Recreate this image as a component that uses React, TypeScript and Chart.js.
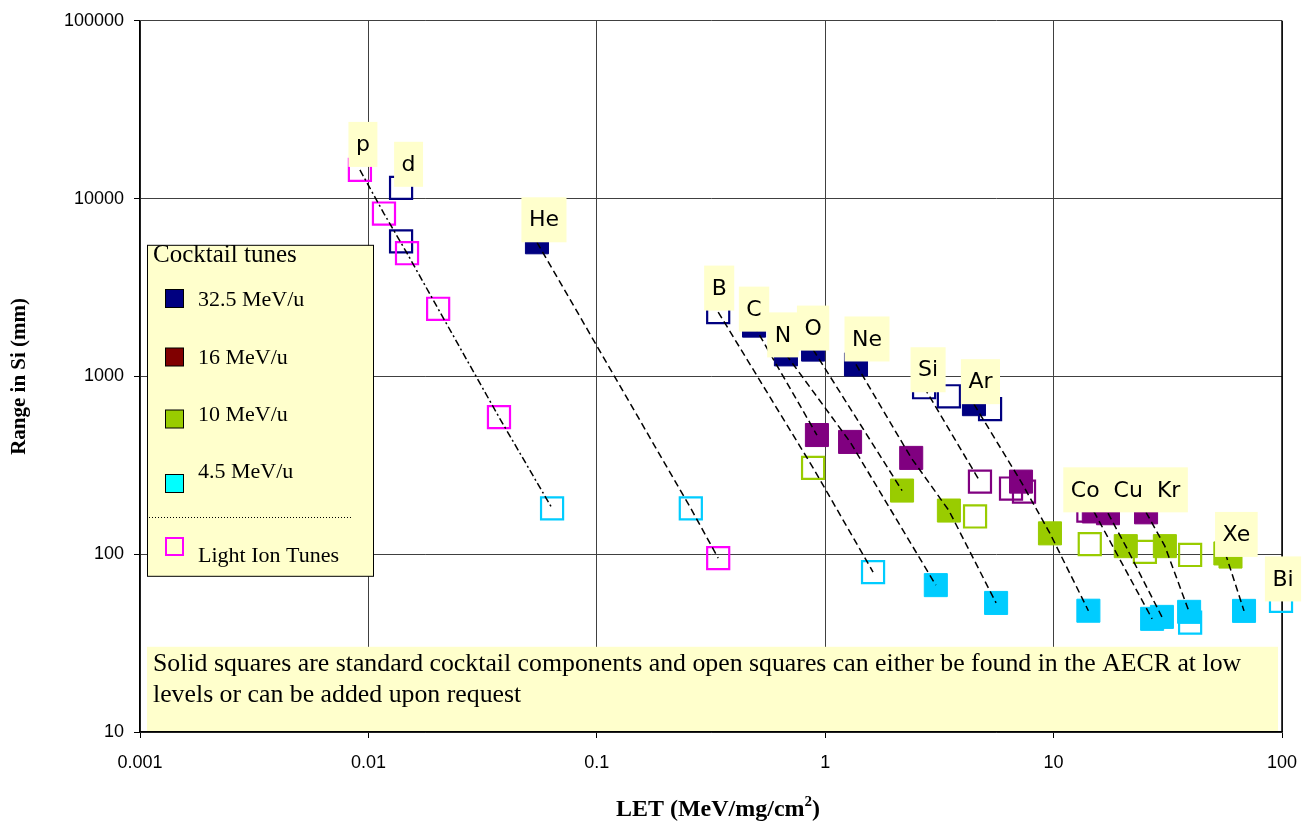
import React, { useEffect, useRef } from 'react';
import { Chart, registerables } from 'chart.js';

Chart.register(...registerables);

// ---------- axis ticks ----------
const xTickValues = [0.001, 0.01, 0.1, 1, 10, 100];
const yTickValues = [10, 100, 1000, 10000, 100000];

// ---------- marker series: [LET (MeV/mg/cm2), Range in Si] ----------
const solid325 = [[0.0547, 5680], [0.488, 1930], [0.673, 1330], [0.885, 1415], [1.364, 1167], [4.48, 698]];
const open325 = [[0.0139, 11500], [0.0139, 5750], [0.34, 2300], [2.71, 869], [3.48, 773], [5.27, 654]];
const solid16 = [[0.92, 468], [1.285, 428], [2.38, 348], [7.2, 256], [15.0, 174], [17.3, 170], [25.4, 172]];
const open16 = [[4.76, 256], [6.51, 234], [7.42, 225], [14.2, 176]];
const solid10 = [[2.17, 228], [3.48, 176], [9.64, 131], [20.7, 111], [30.7, 111], [56.5, 101], [59.5, 97]];
const open10 = [[0.885, 306], [4.53, 163], [14.4, 114], [25.1, 103], [39.6, 99]];
const solid45 = [[3.05, 67], [5.6, 53.2], [14.2, 48.1], [27.0, 43.3], [29.8, 44.4], [39.2, 47.4], [68.2, 48.0]];
const open45 = [[0.0637, 181], [0.258, 181], [1.62, 79.3], [39.6, 41.2], [99, 54.6]];
const lightIon = [[0.00918, 14500], [0.0117, 8240], [0.01476, 4930], [0.0202, 2400], [0.0373, 590], [0.34, 95]];

// ---------- ion tracks (dashed connectors) ----------
const trackP = [[0.00918, 14500], [0.0117, 8240], [0.01476, 4930], [0.0202, 2400], [0.0373, 590], [0.0637, 181]];
const trackHe = [[0.0547, 5680], [0.258, 181], [0.34, 95]];
const trackB = [[0.34, 2300], [0.885, 306], [1.62, 79.3]];
const trackC = [[0.488, 1930], [0.92, 468]];
const trackN = [[0.673, 1330], [1.285, 428], [3.05, 67]];
const trackO = [[0.885, 1415], [2.17, 228]];
const trackNe = [[1.364, 1167], [2.38, 348], [3.48, 176], [5.6, 53.2]];
const trackSi = [[2.71, 869], [4.76, 256]];
const trackAr = [[4.48, 698], [7.2, 256], [9.64, 131], [14.2, 48.1]];
const trackCo = [[15.0, 174], [27.0, 43.3]];
const trackCu = [[17.3, 170], [20.7, 111], [29.8, 44.4]];
const trackKr = [[25.4, 172], [30.7, 111], [39.2, 47.4]];
const trackXe = [[56.5, 101], [68.2, 48.0]];

// ---------- texts ----------
const ionLabels = ['p', 'd', 'He', 'B', 'C', 'N', 'O', 'Ne', 'Si', 'Ar', 'Co  Cu  Kr', 'Xe', 'Bi'];
const ionLabelAnchors = [[0.00918, 14500], [0.0139, 11500], [0.0547, 5680], [0.34, 2300], [0.488, 1930], [0.673, 1330], [0.885, 1415], [1.364, 1167], [2.71, 869], [4.48, 698], [25.4, 172], [56.5, 101], [99, 54.6]];
const legendTitle = 'Cocktail tunes';
const legendLabels = ['32.5 MeV/u', '16 MeV/u', '10 MeV/u', '4.5 MeV/u', 'Light Ion Tunes'];
const noteLines = [
  'Solid squares are standard cocktail components and open squares can either be found in the AECR at low',
  'levels or can be added upon request',
];
const xTitleMain = 'LET (MeV/mg/cm';
const xTitleSup = '2';
const xTitleEnd = ')';
const yTitle = 'Range in Si (mm)';

// ---------- styles ----------
const NAVY = '#000080';
const PURPLE = '#800080';
const LIME = '#99CC00';
const CYAN = '#00CCFF';
const MAGENTA = '#FF00FF';
const NOTE_BG = '#FFFFCC';
const SERIF = '"Liberation Serif", "Times New Roman", serif';
const SANS = '"Liberation Sans", Arial, sans-serif';
const LABEL_FONT = '"Comic Sans MS", "DejaVu Sans", sans-serif';
// label offsets (px) from anchor point to label-box centre
const labelOffsets = [[3, -25.5], [7.5, -23.5], [7, -22.5], [1, -24], [0, -16.5], [-3, -19.5], [0, -21.5], [11, -25.5], [4, -17.5], [6.5, -22.5], [-20.5, -22.5], [11, -19], [2, -22]];
const legendSwatches = [
  { fill: NAVY, stroke: '#000' },
  { fill: '#800000', stroke: '#000' },
  { fill: LIME, stroke: '#000' },
  { fill: '#00FFFF', stroke: '#000' },
  { fill: null, stroke: MAGENTA },
];
const legendSwatchY = [298.5, 357, 419, 483.5, 546.5];
const legendTextY = [300.5, 358.5, 415.5, 472.5, 556];

const toPts = (a: number[][]) => a.map(([x, y]) => ({ x, y }));

function markerSet(data: number[][], color: string, filled: boolean) {
  return {
    data: toPts(data),
    showLine: false,
    pointStyle: 'rect',
    pointRadius: filled ? 16.3 : 15.6,
    pointHoverRadius: filled ? 16.3 : 15.6,
    pointBorderWidth: filled ? 1 : 2.2,
    pointBackgroundColor: filled ? color : 'rgba(0,0,0,0)',
    pointBorderColor: color,
    order: 1,
    clip: false,
  };
}

function trackSet(data: number[][], dash: number[]) {
  return {
    data: toPts(data),
    showLine: true,
    pointRadius: 0,
    pointHoverRadius: 0,
    borderColor: '#000',
    borderWidth: 1.5,
    borderDash: dash,
    fill: false,
    tension: 0,
    order: 0,
    clip: false,
  };
}

const decorPlugin = {
  id: 'decor',
  beforeDatasetsDraw(chart: any) {
    const { ctx, chartArea: a } = chart;
    ctx.save();
    // plot-area right border
    ctx.strokeStyle = '#000';
    ctx.lineWidth = 1.5;
    ctx.beginPath();
    ctx.moveTo(a.right, a.top);
    ctx.lineTo(a.right, a.bottom);
    ctx.stroke();

    // legend box
    const lx = a.left + 7.5, ly = a.top + 224.5, lw = 226, lh = 331;
    ctx.fillStyle = NOTE_BG;
    ctx.fillRect(lx, ly, lw, lh);
    ctx.strokeStyle = '#000';
    ctx.lineWidth = 1;
    ctx.strokeRect(lx, ly, lw, lh);
    ctx.fillStyle = '#000';
    ctx.textBaseline = 'middle';
    ctx.textAlign = 'left';
    ctx.font = `25px ${SERIF}`;
    ctx.fillText(legendTitle, a.left + 13, 255.5);
    ctx.font = `22px ${SERIF}`;
    legendLabels.forEach((lab, i) => {
      const sw = legendSwatches[i];
      const cy = legendSwatchY[i];
      if (sw.fill) {
        ctx.fillStyle = sw.fill;
        ctx.fillRect(a.left + 25.5, cy - 9, 18, 18);
        ctx.strokeStyle = sw.stroke;
        ctx.lineWidth = 1;
        ctx.strokeRect(a.left + 25.5, cy - 9, 18, 18);
      } else {
        ctx.strokeStyle = sw.stroke;
        ctx.lineWidth = 2;
        ctx.strokeRect(a.left + 26, cy - 8.5, 17, 17);
      }
      ctx.fillStyle = '#000';
      ctx.fillText(lab, a.left + 58, legendTextY[i]);
    });
    // dotted separator
    ctx.strokeStyle = '#000';
    ctx.lineWidth = 1;
    ctx.setLineDash([1, 2]);
    ctx.beginPath();
    ctx.moveTo(a.left + 9, 517.5);
    ctx.lineTo(a.left + 213, 517.5);
    ctx.stroke();
    ctx.setLineDash([]);

    // note box
    ctx.fillStyle = NOTE_BG;
    ctx.fillRect(a.left + 7, a.top + 626, a.right - a.left - 11, a.bottom - a.top - 627);
    ctx.fillStyle = '#000';
    ctx.font = `25.8px ${SERIF}`;
    noteLines.forEach((t, i) => ctx.fillText(t, a.left + 13, 664 + i * 31));
    ctx.restore();
  },
  afterDatasetsDraw(chart: any) {
    const { ctx } = chart;
    const xs = chart.scales.x, ys = chart.scales.y;
    ctx.save();
    ctx.font = `22px ${LABEL_FONT}`;
    ctx.textAlign = 'center';
    ctx.textBaseline = 'middle';
    ionLabels.forEach((t, i) => {
      const [lx, ly] = ionLabelAnchors[i];
      const [dx, dy] = labelOffsets[i];
      const cx = xs.getPixelForValue(lx) + dx;
      const cy = ys.getPixelForValue(ly) + dy;
      const w = ctx.measureText(t).width + 15;
      const h = 45;
      ctx.fillStyle = NOTE_BG;
      ctx.fillRect(cx - w / 2, cy - h / 2, w, h);
      ctx.fillStyle = '#000';
      ctx.fillText(t, cx, cy + 1);
    });
    ctx.restore();
  },
  afterDraw(chart: any) {
    const { ctx, chartArea: a } = chart;
    ctx.save();
    ctx.fillStyle = '#000';
    // y title
    ctx.font = `bold 21px ${SERIF}`;
    ctx.textAlign = 'center';
    ctx.textBaseline = 'middle';
    ctx.translate(20, (a.top + a.bottom) / 2);
    ctx.rotate(-Math.PI / 2);
    ctx.fillText(yTitle, 0, 0);
    ctx.restore();

    ctx.save();
    ctx.fillStyle = '#000';
    ctx.textBaseline = 'alphabetic';
    ctx.textAlign = 'left';
    const big = `bold 24px ${SERIF}`;
    const small = `bold 15px ${SERIF}`;
    ctx.font = big;
    const w1 = ctx.measureText(xTitleMain).width;
    const w3 = ctx.measureText(xTitleEnd).width;
    ctx.font = small;
    const w2 = ctx.measureText(xTitleSup).width;
    const total = w1 + w2 + w3;
    const cx = 718;
    let x = cx - total / 2;
    const base = 816;
    ctx.font = big;
    ctx.fillText(xTitleMain, x, base);
    x += w1;
    ctx.font = small;
    ctx.fillText(xTitleSup, x, base - 10);
    x += w2;
    ctx.font = big;
    ctx.fillText(xTitleEnd, x, base);
    ctx.restore();
  },
};

export default function App() {
  const ref = useRef<HTMLCanvasElement>(null);
  useEffect(() => {
    document.body.style.margin = '0';
    const canvas = ref.current;
    if (!canvas) return;
    const datasets: any[] = [
      trackSet(trackP, [7, 3, 2, 3]),
      trackSet(trackHe, [7, 4]),
      trackSet(trackB, [7, 4]),
      trackSet(trackC, [7, 4]),
      trackSet(trackN, [7, 4]),
      trackSet(trackO, [7, 4]),
      trackSet(trackNe, [7, 4]),
      trackSet(trackSi, [7, 4]),
      trackSet(trackAr, [7, 4]),
      trackSet(trackCo, [7, 4]),
      trackSet(trackCu, [7, 4]),
      trackSet(trackKr, [7, 4]),
      trackSet(trackXe, [7, 4]),
      markerSet(lightIon, MAGENTA, false),
      markerSet(solid325, NAVY, true),
      markerSet(open325, NAVY, false),
      markerSet(solid16, PURPLE, true),
      markerSet(open16, PURPLE, false),
      markerSet(solid10, LIME, true),
      markerSet(open10, LIME, false),
      markerSet(solid45, CYAN, true),
      markerSet(open45, CYAN, false),
    ];
    const chart = new Chart(canvas, {
      type: 'scatter',
      data: { datasets },
      options: {
        responsive: false,
        devicePixelRatio: 1,
        animation: false,
        events: [],
        layout: { padding: { top: 16, right: 31, left: 0, bottom: 0 } },
        plugins: { legend: { display: false }, tooltip: { enabled: false }, title: { display: false } },
        scales: {
          x: {
            type: 'logarithmic',
            min: 0.001,
            max: 100,
            afterBuildTicks: (s: any) => { s.ticks = xTickValues.map((v) => ({ value: v, major: true })); },
            afterFit: (s: any) => { s.height = 98; },
            ticks: {
              callback: (v: any) => String(v),
              font: { family: SANS, size: 18 },
              color: '#000',
              padding: 14,
              maxRotation: 0,
              autoSkip: false,
            },
            grid: { color: '#404040', lineWidth: 1, tickLength: 6, tickColor: '#000', drawTicks: true },
            border: { color: '#000', width: 1.5 },
          },
          y: {
            type: 'logarithmic',
            min: 10,
            max: 100000,
            afterBuildTicks: (s: any) => { s.ticks = yTickValues.map((v) => ({ value: v, major: true })); },
            afterFit: (s: any) => { s.width = 140; },
            ticks: {
              callback: (v: any) => String(v),
              font: { family: SANS, size: 18 },
              color: '#000',
              padding: 10,
              autoSkip: false,
            },
            grid: { color: '#404040', lineWidth: 1, tickLength: 6, tickColor: '#000', drawTicks: true },
            border: { color: '#000', width: 1.5 },
          },
        },
      },
      plugins: [decorPlugin],
    } as any);
    return () => chart.destroy();
  }, []);
  return (
    <div style={{ position: 'fixed', left: 0, top: 0, width: 1313, height: 830, background: '#fff' }}>
      <canvas ref={ref} width={1313} height={830} style={{ display: 'block', width: 1313, height: 830 }} />
    </div>
  );
}
